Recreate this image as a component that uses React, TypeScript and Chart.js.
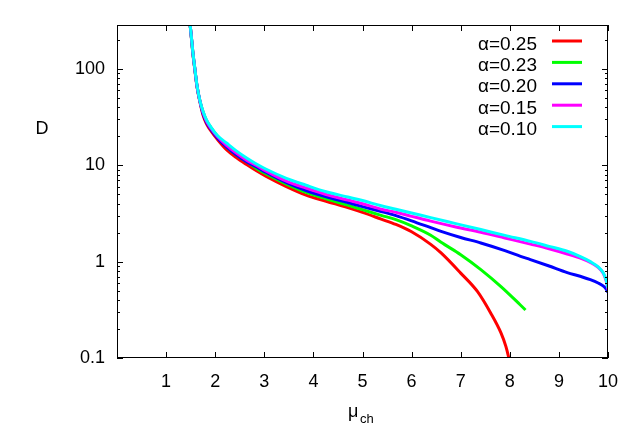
import React, { useEffect, useRef } from "react";
import { Chart, registerables } from "chart.js";

Chart.register(...registerables);

// ---- data ----
const seriesLabels = ["α=0.25", "α=0.23", "α=0.20", "α=0.15", "α=0.10"];
const seriesColors = ["#ff0000", "#00ff00", "#0000ff", "#ff00ff", "#00ffff"];

const xCommon = [1.485, 1.52, 1.545, 1.58, 1.63, 1.69, 1.75, 1.82, 1.92, 2.05, 2.23, 2.43, 2.64, 2.84, 3.04, 3.45, 3.85, 4.26, 4.7, 5.0, 5.38, 5.68];

const xRed = [...xCommon, 6.0, 6.39, 6.6, 7.0, 7.34, 7.61, 7.82, 7.92, 7.97, 8.0];
const yRed = [300, 196, 144, 103, 65, 45, 33.4, 27.1, 22.4, 18.4, 14.5, 12.0, 10.15, 8.75, 7.65, 6.0, 4.9, 4.23, 3.63, 3.24, 2.76, 2.43,
  2.04, 1.51, 1.23, 0.76, 0.49, 0.293, 0.182, 0.132, 0.105, 0.089];

const xGreen = [...xCommon, 6.0, 6.39, 6.6, 7.0, 7.41, 7.82, 8.21, 8.32];
const yGreen = [300, 201, 148, 105, 66, 46, 36.2, 29.4, 24.3, 19.9, 15.6, 12.85, 10.9, 9.27, 8.1, 6.37, 5.22, 4.48, 3.85, 3.46, 3.02, 2.73,
  2.35, 1.88, 1.585, 1.18, 0.826, 0.55, 0.357, 0.315];

const xBlue = [...xCommon, 6.0, 6.39, 6.6, 7.0, 7.41, 7.9, 8.22, 8.42, 8.8, 9.17, 9.45, 9.64, 9.8, 9.9, 9.96, 10.0];
const yBlue = [300, 200, 147, 105, 66, 46, 34.6, 28.1, 23.2, 19.1, 15.5, 12.85, 10.9, 9.6, 8.4, 6.6, 5.47, 4.7, 4.1, 3.72, 3.31, 3.0,
  2.65, 2.25, 2.06, 1.78, 1.56, 1.3, 1.135, 1.05, 0.9, 0.77, 0.7, 0.65, 0.6, 0.56, 0.52, 0.48];

const xTail = [6.0, 6.39, 6.9, 7.41, 7.9, 8.42, 8.8, 9.17, 9.45, 9.64, 9.8, 9.9, 9.96, 10.0];

const xMagenta = [...xCommon, ...xTail];
const yMagenta = [300, 201, 148, 105, 66, 46, 35.6, 28.9, 23.9, 19.7, 16.1, 13.4, 11.3, 9.95, 8.7, 6.85, 5.8, 4.97, 4.35, 3.98, 3.5, 3.25,
  2.95, 2.63, 2.29, 2.02, 1.76, 1.52, 1.36, 1.2, 1.08, 0.98, 0.87, 0.76, 0.64, 0.51];

const xCyan = [...xCommon, ...xTail];
const yCyan = [300, 202, 149, 106, 67, 46.5, 36.6, 29.7, 24.6, 20.2, 17.0, 14.1, 11.9, 10.3, 9.08, 7.31, 6.2, 5.3, 4.68, 4.3, 3.8, 3.5,
  3.2, 2.86, 2.48, 2.15, 1.87, 1.62, 1.44, 1.28, 1.12, 1.0, 0.88, 0.77, 0.65, 0.53];

const seriesX = [xRed, xGreen, xBlue, xMagenta, xCyan];
const seriesY = [yRed, yGreen, yBlue, yMagenta, yCyan];

const xTickValues = [1, 2, 3, 4, 5, 6, 7, 8, 9, 10];
const yTickValues = [0.1, 1, 10, 100];
const xMin = 0, xMax = 10, yMin = 0.1, yMax = 285;

const FONT = "'Liberation Sans', Arial, sans-serif";

const gnuplotFrame = {
  id: "gnuplotFrame",
  afterDraw(chart: any) {
    const { ctx, chartArea: a, scales } = chart;
    const xs = scales.x, ys = scales.y;
    ctx.save();
    ctx.strokeStyle = "#000";
    ctx.lineWidth = 1;
    ctx.strokeRect(a.left + 0.5, a.top + 0.5, a.right - a.left - 1, a.bottom - a.top - 1);
    ctx.beginPath();
    for (const v of xTickValues) {
      const px = Math.round(xs.getPixelForValue(v)) + 0.5;
      ctx.moveTo(px, a.bottom); ctx.lineTo(px, a.bottom - 6);
      ctx.moveTo(px, a.top); ctx.lineTo(px, a.top + 6);
    }
    for (const d of yTickValues) {
      for (let m = 1; m <= 9; m++) {
        const v = d * m;
        if (v < yMin || v > yMax) continue;
        const len = m === 1 ? 6 : 3;
        const py = Math.round(ys.getPixelForValue(v)) + 0.5;
        ctx.moveTo(a.left, py); ctx.lineTo(a.left + len, py);
        ctx.moveTo(a.right, py); ctx.lineTo(a.right - len, py);
      }
    }
    ctx.stroke();

    // legend (gnuplot style: text right-aligned, sample line to the right)
    ctx.fillStyle = "#000";
    ctx.font = `19px ${FONT}`;
    ctx.textAlign = "right";
    ctx.textBaseline = "alphabetic";
    chart.data.datasets.forEach((ds: any, i: number) => {
      const yText = 50 + i * 21.2;
      const yLine = 41 + i * 21.4;
      ctx.fillText(ds.label, 537, yText);
      ctx.beginPath();
      ctx.strokeStyle = ds.borderColor;
      ctx.lineWidth = 3;
      ctx.moveTo(552, yLine);
      ctx.lineTo(582, yLine);
      ctx.stroke();
    });

    // axis titles
    ctx.fillStyle = "#000";
    ctx.textAlign = "center";
    ctx.font = `18px ${FONT}`;
    ctx.fillText("D", 42, 134);
    ctx.textAlign = "left";
    ctx.fillText("μ", 348, 417);
    ctx.font = `13px ${FONT}`;
    ctx.fillText("ch", 360, 423);
    ctx.restore();
  },
};

export default function App() {
  const ref = useRef<HTMLCanvasElement | null>(null);
  useEffect(() => {
    if (!ref.current) return;
    const datasets = seriesLabels.map((label, i) => ({
      label,
      data: seriesX[i].map((x, j) => ({ x, y: seriesY[i][j] })),
      borderColor: seriesColors[i],
      backgroundColor: seriesColors[i],
      borderWidth: 3,
      pointRadius: 0,
      fill: false,
      cubicInterpolationMode: "monotone" as const,
      order: seriesLabels.length - 1 - i,
    }));
    const chart = new Chart(ref.current, {
      type: "line",
      data: { datasets },
      options: {
        animation: false,
        responsive: false,
        maintainAspectRatio: false,
        layout: { padding: { left: 0, top: 25, right: 32, bottom: 0 } },
        plugins: { legend: { display: false }, tooltip: { enabled: false } },
        scales: {
          x: {
            type: "linear",
            min: xMin,
            max: xMax,
            afterBuildTicks: (s: any) => { s.ticks = xTickValues.map((v) => ({ value: v })); },
            afterFit: (s: any) => { s.height = 90; },
            grid: { display: false, drawTicks: false },
            border: { display: false },
            ticks: {
              color: "#000",
              padding: 13,
              maxRotation: 0,
              autoSkip: false,
              font: { family: FONT, size: 18 },
              callback: (v: any) => String(v),
            },
          },
          y: {
            type: "logarithmic",
            min: yMin,
            max: yMax,
            afterBuildTicks: (s: any) => { s.ticks = yTickValues.map((v) => ({ value: v })); },
            afterFit: (s: any) => { s.width = 117; },
            grid: { display: false, drawTicks: false },
            border: { display: false },
            ticks: {
              color: "#000",
              padding: 12,
              autoSkip: false,
              font: { family: FONT, size: 18 },
              callback: (v: any) => String(v),
            },
          },
        },
      },
      plugins: [gnuplotFrame],
    });
    return () => chart.destroy();
  }, []);
  return (
    <div style={{ position: "fixed", left: 0, top: 0, width: 640, height: 448, background: "#fff" }}>
      <canvas ref={ref} width={640} height={448} style={{ width: 640, height: 448 }} />
    </div>
  );
}
